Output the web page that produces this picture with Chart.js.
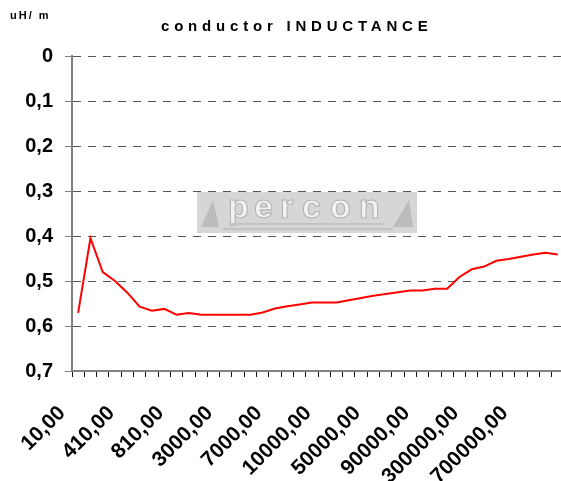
<!DOCTYPE html>
<html>
<head>
<meta charset="utf-8">
<script src="https://cdn.jsdelivr.net/npm/chart.js@4/dist/chart.umd.min.js"></script>
<style>
  html, body { margin: 0; padding: 0; background: #fff; overflow: hidden; }
  #wrap { position: relative; width: 561px; height: 481px; overflow: hidden; }
  #chart { position: absolute; left: 0; top: 0; }
  .unit { position: absolute; left: 10px; top: 10px; font: bold 11px "Liberation Sans", Arial, sans-serif; line-height: 11px; letter-spacing: 2px; color: #000; white-space: pre; }
  .title { position: absolute; left: 161px; top: 18px; font: bold 15px "Liberation Sans", Arial, sans-serif; line-height: 15px; letter-spacing: 4.8px; color: #000; white-space: pre; }
</style>
</head>
<body>
<div id="wrap">
  <canvas id="chart" width="564" height="481"></canvas>
  <div class="unit">uH/ m</div>
  <div class="title">conductor INDUCTANCE</div>
</div>
<script>
// frequency steps (x categories), only every 4th one gets a label
const frequencies = [
  10, 110, 210, 310, 410, 510, 610, 710, 810, 910,
  1000, 2000, 3000, 4000, 5000, 6000, 7000, 8000, 9000, 9500,
  10000, 20000, 30000, 40000, 50000, 60000, 70000, 80000, 90000, 100000,
  150000, 200000, 300000, 400000, 500000, 600000, 700000, 800000, 900000, 1000000
];

// inductance in uH/m
const inductance = [
  0.571, 0.405, 0.480, 0.500, 0.526, 0.557, 0.566, 0.562, 0.575, 0.571,
  0.575, 0.575, 0.575, 0.575, 0.575, 0.570, 0.561, 0.556, 0.552, 0.548,
  0.548, 0.548, 0.543, 0.538, 0.533, 0.529, 0.525, 0.521, 0.521, 0.517,
  0.517, 0.491, 0.474, 0.468, 0.455, 0.451, 0.446, 0.441, 0.437, 0.441
];

const yTicks = [0, 0.1, 0.2, 0.3, 0.4, 0.5, 0.6, 0.7];
const labelEvery = 4;

const FONT = '"Liberation Sans", Arial, sans-serif';
const fmtX = v => v.toFixed(2).replace('.', ',');
const fmtY = v => (Math.abs(v) < 1e-9 ? '0' : v.toFixed(1).replace('.', ','));

// faint "percon" logo behind the plot
const watermark = {
  id: 'watermark',
  beforeDatasetsDraw(chart) {
    const { ctx, chartArea: a } = chart;
    const x = a.left + 125, y = a.top + 136, w = 220, h = 41;
    ctx.save();
    ctx.fillStyle = '#d6d6d6';
    ctx.fillRect(x, y, w, h);
    // slanted end pieces
    ctx.fillStyle = '#bcbcbc';
    ctx.beginPath();
    ctx.moveTo(x + 4, y + h - 6); ctx.lineTo(x + 16, y + 8); ctx.lineTo(x + 22, y + h - 6);
    ctx.closePath(); ctx.fill();
    ctx.beginPath();
    ctx.moveTo(x + w - 24, y + h - 6); ctx.lineTo(x + w - 8, y + 8); ctx.lineTo(x + w - 4, y + h - 6);
    ctx.closePath(); ctx.fill();
    // letters
    ctx.font = 'bold 34px ' + FONT;
    ctx.textBaseline = 'alphabetic';
    ctx.fillStyle = '#f2f2f2';
    ctx.strokeStyle = '#b0b0b0';
    ctx.lineWidth = 1;
    const letters = 'percon';
    const offs = [31, 57, 83, 105, 133, 162];
    letters.split('').forEach((c, i) => {
      ctx.fillText(c, x + offs[i], y + 26);
      ctx.strokeText(c, x + offs[i], y + 26);
    });
    // small print lines under the name
    ctx.fillStyle = '#c2c2c2';
    ctx.fillRect(x + 32, y + 31, 155, 2);
    ctx.fillRect(x + 26, y + 36, 170, 2);
    ctx.restore();
  }
};

new Chart(document.getElementById('chart'), {
  type: 'line',
  data: {
    labels: frequencies,
    datasets: [{
      data: inductance,
      borderColor: '#ff0000',
      borderWidth: 2,
      pointRadius: 0,
      tension: 0,
      fill: false
    }]
  },
  options: {
    responsive: false,
    devicePixelRatio: 1,
    animation: false,
    layout: { padding: { top: 56, left: 0, right: 0, bottom: 0 } },
    plugins: { legend: { display: false }, title: { display: false }, tooltip: { enabled: false } },
    scales: {
      x: {
        type: 'category',
        offset: true,
        grid: { display: true, drawOnChartArea: false, drawTicks: true, offset: true, tickLength: 6, tickWidth: 1, tickColor: '#111111', color: '#111111' },
        border: { display: true, color: '#808080', width: 2 },
        ticks: {
          autoSkip: false,
          minRotation: 45,
          maxRotation: 45,
          padding: 24,
          labelOffset: -16,
          color: '#000',
          font: { family: FONT, size: 21, weight: 'bold' },
          callback: (v, i) => (i % labelEvery === 0 ? fmtX(frequencies[i]) : '')
        },
        afterFit: s => {
          s.height = 110;
          // plot runs to the right edge like the original, labels may overflow
          s.paddingLeft = 0;
          s.paddingRight = 0;
        }
      },
      y: {
        reverse: true,
        min: yTicks[0],
        max: yTicks[yTicks.length - 1],
        afterBuildTicks: s => { s.ticks = yTicks.map(v => ({ value: v })); },
        grid: { color: '#555555', lineWidth: 1, tickLength: 7, tickColor: '#808080' },
        border: { display: true, color: '#808080', width: 2, dash: [8, 7] },
        ticks: {
          padding: 12,
          color: '#000',
          font: { family: FONT, size: 20, weight: 'bold' },
          callback: v => fmtY(v)
        },
        afterFit: s => { s.width = 72; }
      }
    }
  },
  plugins: [watermark]
});
</script>
</body>
</html>
